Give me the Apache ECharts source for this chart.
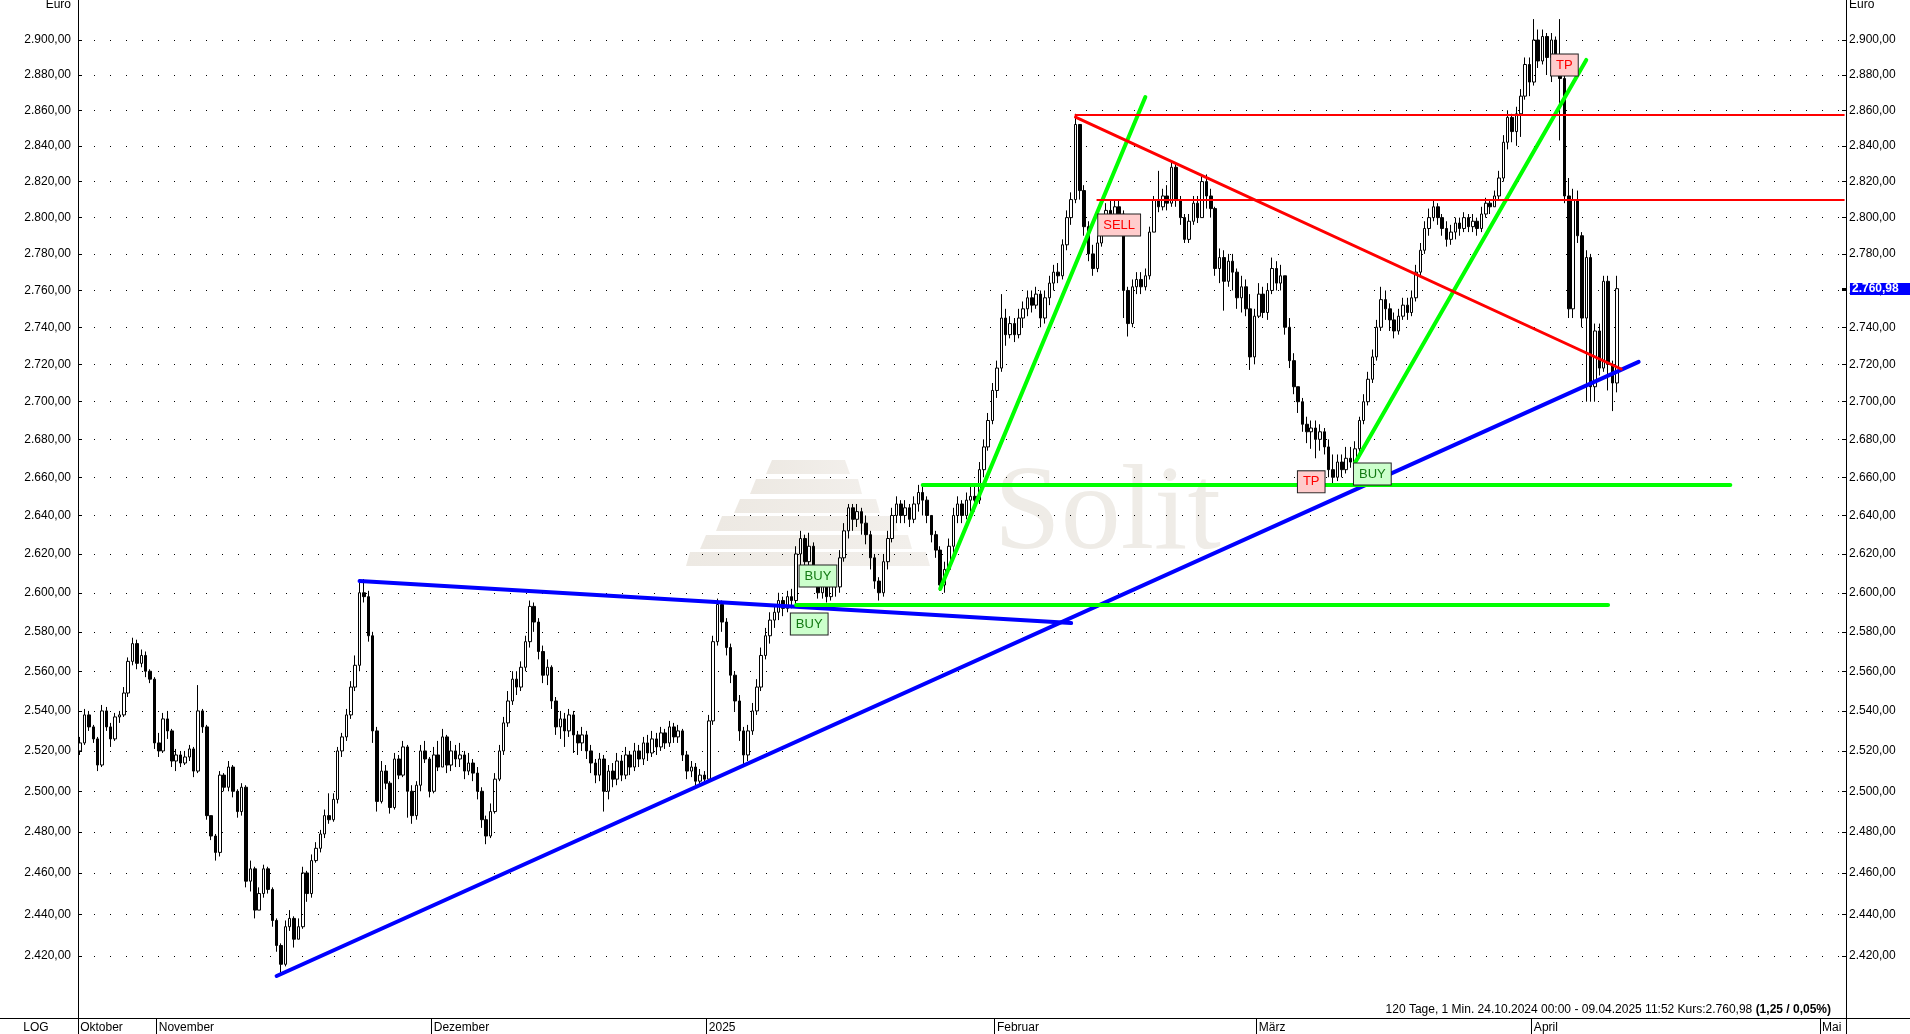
<!DOCTYPE html>
<html><head><meta charset="utf-8">
<script src="https://cdn.jsdelivr.net/npm/echarts@6/dist/echarts.min.js"></script>
<style>html,body{margin:0;padding:0;background:#fff}#c{width:1910px;height:1034px}</style>
</head><body><div id="c"></div>
<script>
// ---- DATA ----
// 3 candles per trading day, open = previous close
const firstOpen = 2520;
const closes = [
2524,2538,2532, 2526,2513,2540, 2532,2526,2537, 2538,2549,2565, 2574,2564,2568, 2560,2556,2524,
2520,2536,2530, 2515,2518,2514, 2517,2521,2510, 2540,2532,2488, 2478,2470,2508, 2502,2512,2500,
2490,2502,2456, 2462,2442,2450, 2462,2452,2437, 2425,2416,2434, 2438,2428,2434, 2460,2450,2466,
2472,2479,2488, 2486,2496,2520, 2527,2538,2552, 2563,2600,2598, 2578,2530,2495, 2510,2504,2492,
2516,2508,2522, 2500,2488,2503, 2520,2516,2500, 2518,2512,2527, 2513,2520,2516, 2518,2510,2514,
2509,2500,2486, 2478,2490,2506, 2520,2534,2545, 2556,2552,2562, 2575,2593,2585, 2570,2558,2562,
2545,2532,2536, 2530,2538,2528, 2524,2528,2520, 2514,2508,2516, 2500,2510,2506, 2515,2508,2518,
2512,2520,2516, 2524,2519,2526, 2522,2529,2524, 2532,2527,2530, 2518,2510,2512, 2505,2508,2506,
2535,2575,2594, 2585,2572,2558, 2545,2530,2518, 2530,2540,2552, 2568,2578,2586, 2590,2596,2592,
2598,2596,2620, 2628,2616,2624, 2610,2600,2606, 2598,2608,2603, 2618,2632,2644, 2638,2642,2636,
2630,2618,2606, 2600,2616,2628, 2640,2646,2640, 2644,2638,2646, 2652,2648,2640, 2630,2622,2604,
2612,2624,2640, 2646,2640,2648, 2650,2648,2664, 2676,2690,2706, 2718,2745,2736, 2742,2736,2745,
2750,2756,2752, 2758,2745,2756, 2764,2770,2768, 2785,2800,2810, 2852,2815,2795, 2780,2772,2786,
2795,2804,2800, 2806,2802,2760, 2742,2762,2766, 2762,2768,2792, 2810,2806,2812, 2808,2828,2810,
2800,2788,2798, 2808,2800,2820, 2812,2805,2772, 2778,2765,2776, 2770,2756,2762, 2750,2724,2746,
2758,2748,2760, 2772,2764,2768, 2740,2722,2708, 2700,2688,2684, 2686,2680,2684, 2676,2664,2660,
2668,2664,2670, 2668,2675,2690, 2700,2712,2724, 2740,2755,2750, 2744,2738,2746, 2752,2748,2756,
2770,2782,2794, 2800,2806,2800, 2794,2788,2792, 2797,2794,2800, 2795,2798,2794, 2802,2808,2806,
2812,2822,2842, 2856,2848,2858, 2868,2886,2876, 2900,2888,2902, 2890,2900,2888, 2878,2812,2750,
2810,2790,2745, 2778,2708,2738, 2718,2765,2720, 2710,2760.98
];
const highs = [
2527,2541,2540, 2533,2527,2543, 2542,2534,2539, 2540,2552,2567, 2577,2576,2571, 2570,2561,2557,
2529,2539,2540, 2531,2521,2520, 2520,2523,2522, 2553,2541,2533, 2488,2479,2510, 2509,2515,2513,
2501,2504,2503, 2466,2463,2453, 2464,2463,2453, 2438,2426,2437, 2442,2439,2438, 2463,2461,2469,
2475,2481,2491, 2499,2499,2522, 2529,2541,2555, 2568,2607,2607, 2601,2580,2532, 2515,2513,2505,
2519,2518,2525, 2523,2503,2505, 2523,2525,2517, 2522,2525,2531, 2528,2525,2523, 2524,2520,2519,
2516,2512,2502, 2488,2494,2509, 2523,2537,2550, 2560,2560,2565, 2578,2596,2595, 2587,2573,2566,
2563,2547,2540, 2539,2541,2540, 2530,2532,2530, 2523,2516,2519, 2518,2513,2514, 2519,2518,2522,
2520,2524,2523, 2527,2528,2530, 2529,2532,2531, 2535,2534,2533, 2531,2520,2515, 2514,2511,2510,
2538,2578,2597, 2596,2587,2574, 2560,2548,2532, 2533,2544,2556, 2572,2582,2590, 2594,2600,2598,
2601,2602,2624, 2632,2630,2631, 2626,2614,2612, 2610,2612,2612, 2622,2636,2646, 2646,2646,2644,
2640,2632,2620, 2608,2620,2632, 2644,2650,2648, 2648,2646,2650, 2656,2656,2650, 2640,2632,2624,
2616,2628,2644, 2650,2648,2652, 2656,2656,2668, 2680,2694,2710, 2722,2758,2750, 2746,2745,2750,
2754,2760,2760, 2762,2760,2760, 2768,2774,2775, 2788,2804,2814, 2858,2852,2818, 2798,2785,2790,
2798,2808,2810, 2810,2810,2804, 2762,2766,2770, 2770,2772,2795, 2812,2826,2816, 2818,2831,2830,
2812,2802,2802, 2812,2812,2823, 2824,2816,2806, 2783,2782,2780, 2780,2772,2768, 2766,2758,2750,
2764,2762,2764, 2778,2776,2774, 2768,2745,2726, 2708,2702,2692, 2690,2690,2688, 2686,2680,2672,
2672,2672,2676, 2676,2679,2692, 2704,2716,2728, 2744,2762,2760, 2753,2748,2750, 2756,2756,2760,
2774,2786,2798, 2805,2810,2808, 2802,2798,2796, 2800,2800,2803, 2802,2802,2800, 2806,2811,2810,
2815,2826,2846, 2860,2858,2862, 2872,2890,2890, 2912,2906,2906, 2904,2904,2902, 2912,2880,2822,
2816,2815,2792, 2782,2780,2742, 2742,2768,2768, 2722,2768
];
const lows = [
2518,2523,2530, 2524,2510,2512, 2530,2522,2525, 2534,2537,2547, 2563,2561,2562, 2557,2554,2521,
2517,2519,2526, 2512,2510,2512, 2513,2515,2507, 2509,2529,2486, 2476,2466,2468, 2500,2500,2497,
2487,2488,2453, 2451,2438,2446, 2448,2450,2434, 2422,2412,2415, 2432,2424,2428, 2433,2446,2448,
2465,2470,2477, 2484,2485,2494, 2517,2525,2536, 2550,2560,2595, 2575,2524,2490, 2494,2501,2489,
2491,2506,2507, 2487,2484,2486, 2500,2514,2497, 2499,2510,2512, 2509,2510,2512, 2512,2506,2508,
2505,2496,2482, 2474,2477,2489, 2505,2518,2532, 2543,2548,2550, 2560,2572,2580, 2566,2554,2553,
2541,2528,2526, 2522,2527,2519, 2518,2520,2516, 2509,2504,2505, 2490,2496,2502, 2503,2505,2506,
2508,2510,2512, 2513,2515,2517, 2518,2520,2521, 2522,2524,2524, 2515,2506,2507, 2502,2503,2504,
2505,2533,2573, 2580,2568,2554, 2540,2525,2512, 2515,2528,2538, 2550,2566,2574, 2582,2586,2588,
2590,2592,2594, 2614,2612,2613, 2604,2597,2597, 2595,2596,2598, 2600,2616,2628, 2632,2634,2630,
2625,2612,2602, 2596,2598,2612, 2626,2636,2636, 2636,2634,2636, 2642,2640,2636, 2626,2618,2601,
2600,2614,2620, 2636,2636,2638, 2642,2642,2646, 2660,2674,2688, 2702,2716,2730, 2734,2732,2734,
2740,2746,2748, 2750,2740,2742, 2752,2760,2764, 2766,2782,2796, 2808,2810,2790, 2776,2768,2770,
2784,2792,2796, 2798,2796,2745, 2735,2740,2758, 2758,2760,2766, 2798,2803,2804, 2804,2806,2806,
2796,2786,2786, 2796,2797,2800, 2805,2800,2768, 2764,2749,2762, 2760,2750,2748, 2746,2717,2720,
2745,2745,2744, 2758,2760,2760, 2736,2718,2704, 2694,2684,2678, 2675,2670,2674, 2672,2660,2655,
2658,2660,2662, 2665,2666,2670, 2688,2698,2710, 2722,2738,2744, 2738,2734,2736, 2744,2744,2746,
2754,2768,2780, 2790,2798,2796, 2790,2784,2785, 2788,2790,2792, 2792,2792,2790, 2792,2800,2802,
2808,2810,2820, 2838,2842,2840, 2845,2866,2868, 2874,2884,2886, 2880,2876,2882, 2843,2808,2745,
2745,2786,2740, 2700,2700,2700, 2714,2716,2706, 2695,2705
];
const yTicks = [2420,2440,2460,2480,2500,2520,2540,2560,2580,2600,2620,2640,2660,2680,2700,2720,2740,2760,2780,2800,2820,2840,2860,2880,2900];
const axisStart = [2024, 9, 24], axisEnd = [2025, 4, 2];
const holidays = ['2024-12-25', '2025-01-01'];
const slotsPerDay = 3;
const monthNames = ['Januar','Februar','März','April','Mai','Juni','Juli','August','September','Oktober','November','Dezember'];
// trend lines: [slot, price]
const blueLines = [ [[45, 2410.4], [357, 2721.3]], [[64, 2606.0], [227, 2584.5]] ];
const greenLines = [ [[164, 2593.7], [350, 2593.7]], [[193, 2656.0], [378, 2656.0]], [[197, 2602.0], [244, 2867.5]], [[292, 2667.5], [345, 2888.6]] ];
const redLines = [ [[228, 2857.3], [404, 2857.3]], [[233, 2809.8], [404, 2809.8]], [[228, 2856.2], [353, 2717.5]] ];
const signals = [
  { text: 'BUY', slot: 169, price: 2608.6 },
  { text: 'BUY', slot: 167, price: 2584.0 },
  { text: 'SELL', slot: 238, price: 2795.9 },
  { text: 'TP', slot: 282, price: 2657.6 },
  { text: 'BUY', slot: 296, price: 2661.7 },
  { text: 'TP', slot: 340, price: 2885.7 }
];
const lastPrice = 2760.98;
const infoText = '120 Tage, 1 Min. 24.10.2024 00:00 - 09.04.2025 11:52 Kurs:2.760,98 ';
const infoBold = '(1,25 / 0,05%)';

// ---- BUILD ----
const FONT = "'Liberation Sans', Arial, sans-serif";
const pad = n => (n < 10 ? '0' : '') + n;
const days = [];
for (let t = Date.UTC(...axisStart); t <= Date.UTC(...axisEnd); t += 86400000) {
  const d = new Date(t), dow = d.getUTCDay();
  if (dow === 0 || dow === 6) continue;
  const iso = d.getUTCFullYear() + '-' + pad(d.getUTCMonth() + 1) + '-' + pad(d.getUTCDate());
  if (holidays.includes(iso)) continue;
  days.push({ y: d.getUTCFullYear(), m: d.getUTCMonth(), iso });
}
const categories = [], labelAt = {};
days.forEach((d, i) => {
  for (let k = 0; k < slotsPerDay; k++) {
    categories.push(d.iso + ' ' + pad(k * 8) + ':00');
    if (k === 0 && (i === 0 || days[i - 1].m !== d.m)) {
      labelAt[categories.length - 1] = d.m === 0 ? String(d.y) : monthNames[d.m];
    }
  }
});
const candles = closes.map((c, i) => {
  const o = i === 0 ? firstOpen : closes[i - 1];
  return [o, c, Math.min(lows[i], o, c), Math.max(highs[i], o, c)];
});
const fmtDE = v => {
  const parts = Number(v).toFixed(2).split('.');
  return parts[0].replace(/\B(?=(\d{3})+(?!\d))/g, '.') + ',' + parts[1];
};
const yMin = 2390.5, yMax = 2923;
const yAxisBase = pos => ({
  type: 'log', logBase: 10, min: yMin, max: yMax, position: pos,
  axisLine: { show: true, onZero: false, lineStyle: { color: '#000', width: 1 } },
  axisTick: { show: true, inside: true, length: 4, customValues: yTicks, lineStyle: { color: '#000' } },
  axisLabel: { customValues: yTicks, formatter: fmtDE, fontSize: 12, color: '#000', fontFamily: FONT, margin: pos === 'left' ? 7 : 3 },
  splitLine: { show: false }
});
const lineSeries = (pts, color, width) => ({
  type: 'line', data: pts, symbol: 'none', silent: true, animation: false, z: 5,
  lineStyle: { color, width, cap: 'round' }
});
const sigStyle = t => t === 'BUY'
  ? { backgroundColor: '#ccffcc', color: '#137a13' }
  : { backgroundColor: '#ffcccc', color: '#ff0000' };

const chart = echarts.init(document.getElementById('c'));
const option = {
  animation: false,
  backgroundColor: '#fff',
  grid: { left: 78, right: 64, top: 0, bottom: 16, containLabel: false, outerBoundsMode: 'none' },
  xAxis: {
    type: 'category', data: categories, boundaryGap: true,
    axisLine: { lineStyle: { color: '#000', width: 1 } },
    axisTick: { show: true, interval: i => labelAt[i] !== undefined, length: 16, lineStyle: { color: '#000' } },
    axisLabel: { interval: i => labelAt[i] !== undefined, formatter: (v, i) => labelAt[i] || '', align: 'left', margin: 4, fontSize: 12, color: '#000', fontFamily: FONT },
    splitLine: { show: false }
  },
  yAxis: [yAxisBase('left'), yAxisBase('right')],
  series: [
    {
      type: 'candlestick', data: candles, barWidth: 3, z: 3,
      itemStyle: { color: '#ffffff', color0: '#000000', borderColor: '#000000', borderColor0: '#000000', borderWidth: 1 },
      markLine: {
        silent: true, symbol: ['none', 'none'], label: { show: false }, animation: false,
        lineStyle: { type: [1, 15], color: '#000', width: 1 },
        data: yTicks.map(v => ({ yAxis: v }))
      }
    },
    ...blueLines.map(p => lineSeries(p, '#0000ff', 4)),
    ...greenLines.map(p => lineSeries(p, '#00ff00', 4)),
    lineSeries(redLines[0], '#ff0000', 2),
    lineSeries(redLines[1], '#ff0000', 2),
    lineSeries(redLines[2], '#ff0000', 3),
    {
      type: 'scatter', symbolSize: 1, z: 10, silent: true,
      itemStyle: { color: 'rgba(0,0,0,0)' },
      data: signals.map(s => ({
        value: [s.slot, s.price], name: s.text,
        label: Object.assign({ show: true, position: 'inside', formatter: s.text, fontSize: 13, fontFamily: FONT, opacity: 1,
          borderColor: '#222', borderWidth: 1, padding: [3, 5, 2, 5], lineHeight: 16 }, sigStyle(s.text))
      }))
    }
  ]
};
chart.setOption(option);

const py = chart.convertToPixel({ yAxisIndex: 0 }, lastPrice);
const watermarkBands = [
  [460, 474, 772, 845, 766, 850], [479, 494, 756, 858, 750, 862], [499, 513, 740, 876, 734, 880],
  [516, 531, 722, 894, 716, 898], [535, 549, 706, 908, 700, 912], [552, 566, 690, 926, 686, 930]
];
const graphics = [];
watermarkBands.forEach(b => graphics.push({
  type: 'polygon', silent: true, z: 0,
  shape: { points: [[b[2], b[0]], [b[3], b[0]], [b[5], b[1]], [b[4], b[1]]] },
  style: { fill: new echarts.graphic.LinearGradient(0, 0, 1, 0, [{ offset: 0, color: '#ede9e3' }, { offset: 1, color: '#f2efeb' }]) }
}));
graphics.push(
  { type: 'text', silent: true, z: 0, x: 994, y: 456, style: { text: 'Solit', font: "120px 'Liberation Serif', serif", fill: '#efece7', verticalAlign: 'top' } },
  { type: 'line', silent: true, z: 1, shape: { x1: 0, y1: 1018.5, x2: 1910, y2: 1018.5 }, style: { stroke: '#000', lineWidth: 1 } },
  { type: 'line', silent: true, z: 1, shape: { x1: 78.5, y1: 1018, x2: 78.5, y2: 1034 }, style: { stroke: '#000', lineWidth: 1 } },
  { type: 'line', silent: true, z: 1, shape: { x1: 1846.5, y1: 1018, x2: 1846.5, y2: 1034 }, style: { stroke: '#000', lineWidth: 1 } },
  { type: 'text', silent: true, z: 1, x: 36, y: 1028, style: { text: 'LOG', font: '12px ' + FONT, fill: '#000', align: 'center', verticalAlign: 'middle' } },
  { type: 'text', silent: true, z: 1, x: 71, y: 5, style: { text: 'Euro', font: '12px ' + FONT, fill: '#000', align: 'right', verticalAlign: 'middle' } },
  { type: 'text', silent: true, z: 1, x: 1849, y: 5, style: { text: 'Euro', font: '12px ' + FONT, fill: '#000', align: 'left', verticalAlign: 'middle' } },
  { type: 'text', silent: true, z: 1, x: 1831, y: 1010, style: {
      text: '{n|' + infoText + '}{b|' + infoBold + '}', align: 'right', verticalAlign: 'middle',
      rich: { n: { font: '12px ' + FONT, fill: '#000' }, b: { font: 'bold 12px ' + FONT, fill: '#000' } } } },
  { type: 'rect', silent: true, z: 20, shape: { x: 1850, y: Math.round(py) - 6, width: 60, height: 12 }, style: { fill: '#0000ff' } },
  { type: 'rect', silent: true, z: 20, shape: { x: 1842, y: Math.round(py) - 1, width: 5, height: 3 }, style: { fill: '#000' } },
  { type: 'text', silent: true, z: 21, x: 1852, y: Math.round(py), style: { text: fmtDE(lastPrice), font: 'bold 12px ' + FONT, fill: '#fff', align: 'left', verticalAlign: 'middle' } }
);
chart.setOption({ graphic: graphics });
</script></body></html>
